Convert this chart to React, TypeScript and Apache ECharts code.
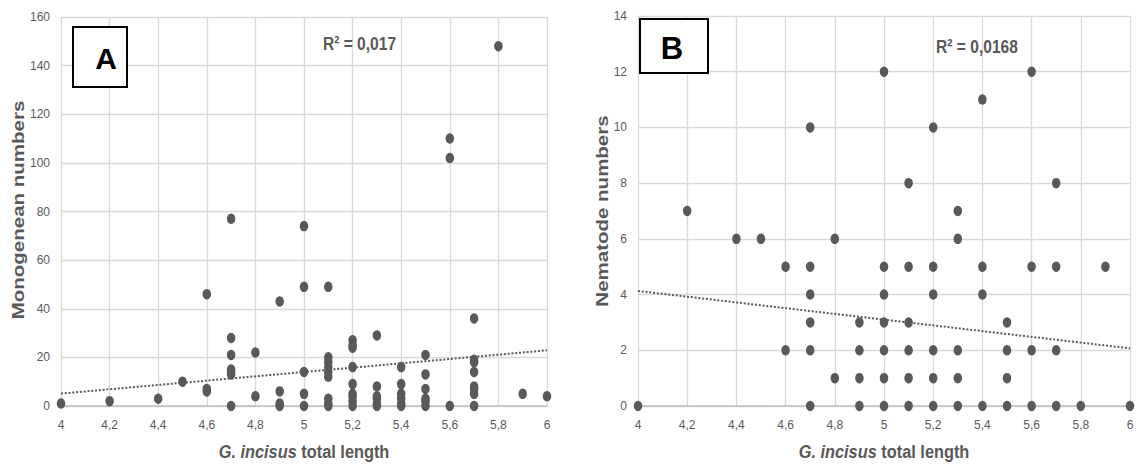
import React, { useEffect, useRef } from "react";
import * as echarts from "echarts";

// ---- Panel A: Monogenean numbers vs G. incisus total length ----
const monoLengths = [4, 4.2, 4.4, 4.5, 4.6, 4.7, 4.8, 4.9, 5.0, 5.1, 5.2, 5.3, 5.4, 5.5, 5.6, 5.7, 5.8, 5.9, 6.0];
const monoCounts = [
  [1],
  [2],
  [3],
  [10],
  [46, 7, 6],
  [77, 28, 21, 15, 14, 13, 0],
  [22, 4],
  [43, 6, 1, 0],
  [74, 49, 14, 5, 0],
  [49, 20, 18, 16, 14, 12, 3, 1, 0],
  [27, 25, 24, 16, 9, 5, 4, 2, 0],
  [29, 8, 4, 3, 1, 0],
  [16, 9, 5, 3, 1, 0],
  [21, 13, 7, 3, 2, 0],
  [110, 102, 0],
  [36, 19, 18, 14, 8, 7, 5, 0],
  [148],
  [5],
  [4],
];
const monoTrendX = [4, 6];
const monoTrendY = [5.1, 22.9];
const monoR2 = "R² = 0,017";

// ---- Panel B: Nematode numbers vs G. incisus total length ----
const nemaLengths = [4, 4.2, 4.4, 4.5, 4.6, 4.7, 4.8, 4.9, 5.0, 5.1, 5.2, 5.3, 5.4, 5.5, 5.6, 5.7, 5.8, 5.9, 6.0];
const nemaCounts = [
  [0],
  [7],
  [6],
  [6],
  [5, 2],
  [10, 5, 4, 3, 2, 0],
  [6, 1],
  [3, 2, 1, 0],
  [12, 5, 4, 3, 2, 1, 0],
  [8, 5, 3, 2, 1, 0],
  [10, 5, 4, 2, 1, 0],
  [7, 6, 2, 1, 0],
  [11, 5, 4, 0],
  [3, 2, 1, 0],
  [12, 5, 2, 0],
  [8, 5, 2, 0],
  [0],
  [5],
  [0],
];
const nemaTrendX = [4, 6];
const nemaTrendY = [4.13, 2.07];
const nemaR2 = "R² = 0,0168";

const yTitleA = "Monogenean numbers";
const yTitleB = "Nematode numbers";

const GREY = "#595959";
const FONT = '"Liberation Sans", Arial, sans-serif';

function toPoints(xs: number[], ys: number[][]) {
  return xs.flatMap((x, i) => ys[i].map((y) => [x, y]));
}

const fmtX = (v: number) => String(+v.toFixed(1)).replace(".", ",");

function xAxisCfg(gridIndex: number) {
  return {
    type: "value",
    gridIndex,
    min: 4,
    max: 6,
    interval: 0.2,
    axisLine: { show: true, onZero: false, lineStyle: { color: "#bfbfbf", width: 1.5 } },
    axisTick: { show: false },
    axisLabel: { formatter: fmtX, color: GREY, fontSize: 12, fontFamily: FONT, margin: 13 },
    splitLine: { show: true, lineStyle: { color: "#d9d9d9", width: 1.3 } },
  };
}

function yAxisCfg(gridIndex: number, max: number, interval: number) {
  return {
    type: "value",
    gridIndex,
    min: 0,
    max,
    interval,
    axisLine: { show: false },
    axisTick: { show: false },
    axisLabel: { color: GREY, fontSize: 12, fontFamily: FONT, margin: 11 },
    splitLine: { show: true, lineStyle: { color: "#d9d9d9", width: 1.3 } },
  };
}

function scatterSeries(idx: number, data: number[][]) {
  return {
    type: "scatter",
    xAxisIndex: idx,
    yAxisIndex: idx,
    data,
    symbol: "circle",
    symbolSize: [8.5, 10.5],
    itemStyle: { color: GREY, opacity: 1 },
    z: 3,
  };
}

function trendSeries(idx: number, xs: number[], ys: number[]) {
  return {
    type: "line",
    xAxisIndex: idx,
    yAxisIndex: idx,
    data: xs.map((x, i) => [x, ys[i]]),
    symbol: "none",
    lineStyle: { color: GREY, width: 2, type: [2, 1.8] },
    z: 4,
  };
}

function xTitleText(cx: number, cy: number) {
  return {
    type: "text",
    x: cx,
    y: cy,
    scaleX: 0.86,
    z: 10,
    style: {
      text: "{i|G. incisus} total length",
      font: `bold 19px ${FONT}`,
      fill: GREY,
      align: "center",
      verticalAlign: "middle",
      rich: {
        i: { fontStyle: "italic", fontWeight: "bold", fontSize: 19, fontFamily: FONT, fill: GREY },
      },
    },
  };
}

function yTitleText(text: string, cx: number, cy: number) {
  return {
    type: "text",
    x: cx,
    y: cy,
    rotation: Math.PI / 2,
    scaleY: 0.83,
    z: 10,
    style: {
      text,
      font: `bold 20.5px ${FONT}`,
      fill: GREY,
      align: "center",
      verticalAlign: "middle",
    },
  };
}

export default function App() {
  const ref = useRef<HTMLDivElement>(null);
  useEffect(() => {
    if (!ref.current) return;
    const chart = echarts.init(ref.current, null, { renderer: "svg" });
    chart.setOption({
      animation: false,
      backgroundColor: "#ffffff",
      grid: [
        { left: 61, top: 17, width: 486, height: 389 },
        { left: 638, top: 16, width: 492, height: 390 },
      ],
      xAxis: [xAxisCfg(0), xAxisCfg(1)],
      yAxis: [yAxisCfg(0, 160, 20), yAxisCfg(1, 14, 2)],
      series: [
        scatterSeries(0, toPoints(monoLengths, monoCounts)),
        trendSeries(0, monoTrendX, monoTrendY),
        scatterSeries(1, toPoints(nemaLengths, nemaCounts)),
        trendSeries(1, nemaTrendX, nemaTrendY),
      ],
      graphic: [
        yTitleText(yTitleA, 18, 210),
        yTitleText(yTitleB, 602, 211),
        xTitleText(304, 452),
        xTitleText(884, 452),
        {
          type: "text",
          x: 359.5,
          y: 43,
          scaleX: 0.82,
          z: 10,
          style: { text: monoR2, font: `bold 19px ${FONT}`, fill: GREY, align: "center", verticalAlign: "middle" },
        },
        {
          type: "text",
          x: 977,
          y: 46,
          scaleX: 0.82,
          z: 10,
          style: { text: nemaR2, font: `bold 19px ${FONT}`, fill: GREY, align: "center", verticalAlign: "middle" },
        },
        {
          type: "rect",
          z: 10,
          shape: { x: 73, y: 27, width: 54, height: 60 },
          style: { fill: "#ffffff", stroke: "#000000", lineWidth: 2 },
        },
        {
          type: "text",
          x: 106,
          y: 58,
          z: 11,
          style: { text: "A", font: `bold 30px ${FONT}`, fill: "#000000", align: "center", verticalAlign: "middle" },
        },
        {
          type: "rect",
          z: 10,
          shape: { x: 640, y: 19, width: 68, height: 54 },
          style: { fill: "#ffffff", stroke: "#000000", lineWidth: 2 },
        },
        {
          type: "text",
          x: 672,
          y: 48,
          z: 11,
          style: { text: "B", font: `bold 31px ${FONT}`, fill: "#000000", align: "center", verticalAlign: "middle" },
        },
      ],
    });
    return () => chart.dispose();
  }, []);
  return (
    <div
      ref={ref}
      style={{ position: "absolute", left: 0, top: 0, width: 1138, height: 467 }}
    />
  );
}
